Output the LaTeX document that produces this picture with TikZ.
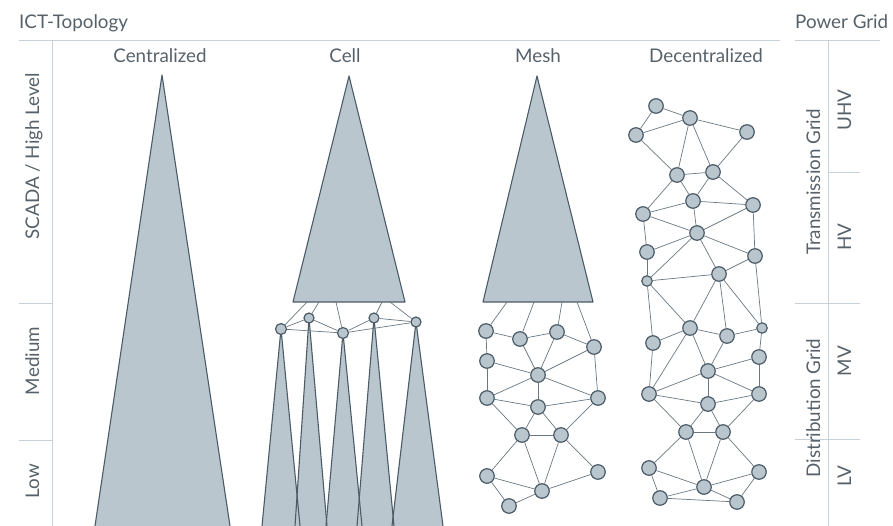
\documentclass[tikz,border=0pt]{standalone}
\usepackage{fontspec}
\setmainfont{Lato}
\usetikzlibrary{calc}
\definecolor{trifill}{HTML}{B9C6CE}
\definecolor{darkc}{HTML}{4B5B67}
\definecolor{edgec}{HTML}{6A7883}
\definecolor{axisc}{HTML}{C8D1D7}
\definecolor{txtc}{HTML}{56616A}
\pgfdeclarelayer{tris}
\pgfdeclarelayer{bg}
\pgfsetlayers{tris,bg,main}
\begin{document}
\begin{tikzpicture}[x=1pt,y=-1pt,
  trishape/.style={fill=trifill},
  trioutline/.style={draw=darkc,line width=1.1pt,line join=round},
  dot/.style={circle,fill=trifill,draw=darkc,line width=1.2pt,inner sep=0pt,minimum size=14.5pt},
  sdot/.style={dot,minimum size=10.5pt},
  edge/.style={draw=edgec,line width=0.7pt},
  axisline/.style={draw=axisc,line width=1pt},
  lbl/.style={text=txtc,font=\fontsize{18.8}{22}\selectfont,inner sep=0pt},
]
\useasboundingbox (0,0) rectangle (893,526);
\clip (0,0) rectangle (893,526);

% axes
\draw[axisline] (19,41) -- (780,41);
\draw[axisline] (795,41) -- (880,41);
\draw[axisline] (52,41) -- (52,530);
\draw[axisline] (19,303) -- (52,303);
\draw[axisline] (19,440) -- (52,440);
\draw[axisline] (828,41) -- (828,530);
\draw[axisline] (828,173) -- (860,173);
\draw[axisline] (795,303) -- (860,303);
\draw[axisline] (795,439) -- (860,439);

% labels
\node[lbl,anchor=base west] (ict) at (19,29) {ICT-Topology};
\node[lbl,anchor=base west] (pg) at (795,29) {Power Grid};
\node[lbl,anchor=base] (tc) at (160,62.5) {Centralized};
\node[lbl,anchor=base] (tcell) at (345,62.5) {Cell};
\node[lbl,anchor=base] (tm) at (538,62.5) {Mesh};
\node[lbl,anchor=base] (td) at (706,62.5) {Decentralized};
\node[lbl,rotate=90,anchor=base] (lscada) at (39,156) {SCADA / High Level};
\node[lbl,rotate=90,anchor=base] (lmed) at (39,361) {Medium};
\node[lbl,rotate=90,anchor=base] (llow) at (39,481) {Low};
\node[lbl,rotate=90,anchor=base] (ltr) at (820,182) {Transmission Grid};
\node[lbl,rotate=90,anchor=base] (ldi) at (820,408) {Distribution Grid};
\node[lbl,rotate=90,anchor=base] (luhv) at (851,110) {UHV};
\node[lbl,rotate=90,anchor=base] (lhv) at (851,237) {HV};
\node[lbl,rotate=90,anchor=base] (lmv) at (851,361) {MV};
\node[lbl,rotate=90,anchor=base] (llv) at (851,476) {LV};

% cell nodes
\node[dot,minimum size=11pt] (n1) at (281,329) {};
\node[dot,minimum size=10pt] (n2) at (309,318) {};
\node[dot,minimum size=11pt] (n3) at (343,333) {};
\node[dot,minimum size=10pt] (n4) at (374,318) {};
\node[dot,minimum size=10pt] (n5) at (416,322) {};

% mesh nodes
\foreach \n/\x/\y in {m1/486/331,m2/520/339,m3/557/332,m4/594/347,m5/487/361,
  m6/538/375,m7/487/398,m8/538/407,m9/598/398,m10/522/435,m11/561/435,
  m12/487/476,m13/598/472,m14/542/491,m15/509/506}
  \node[dot] (\n) at (\x,\y) {};

% decentralized nodes
\foreach \n/\x/\y in {d1/656/106,d2/690/118,d3/636/135,d4/747/132,d5/677/175,
  d6/713/172,d7/693/201,d8/643/214,d9/753/205,d10/697/233,d11/647/252,
  d12/755/256,d13/719/274,
  e1/690/328,e2/727/336,e4/653/343,e5/759/357,e6/708/371,e7/649/394,
  e8/708/404,e9/759/394,e10/686/432,e11/723/432,e12/649/468,e13/759/472,
  e14/704/487,e15/660/498,e16/737/502}
  \node[dot] (\n) at (\x,\y) {};
\node[sdot] (d14) at (647,281) {};
\node[sdot] (e3) at (762,328) {};

% triangles
\coordinate (ca) at (162,75);
\coordinate (cl) at ($(ca)!1.04!(95,526)$);
\coordinate (cr) at ($(ca)!1.04!(230,526)$);
\coordinate (la) at (349,76);
\coordinate (ll) at (293,302);
\coordinate (lr) at (405,302);
\coordinate (ma) at (537,76);
\coordinate (ml) at (483,302);
\coordinate (mr) at (593,302);
\coordinate (t1l) at ($(n1.center)!1.04!(262,526)$);
\coordinate (t1r) at ($(n1.center)!1.04!(300,526)$);
\coordinate (t2l) at ($(n2.center)!1.04!(295,526)$);
\coordinate (t2r) at ($(n2.center)!1.04!(327,526)$);
\coordinate (t3l) at ($(n3.center)!1.04!(326,526)$);
\coordinate (t3r) at ($(n3.center)!1.04!(362,526)$);
\coordinate (t4l) at ($(n4.center)!1.04!(357,526)$);
\coordinate (t4r) at ($(n4.center)!1.04!(394,526)$);
\coordinate (t5l) at ($(n5.center)!1.04!(392,526)$);
\coordinate (t5r) at ($(n5.center)!1.04!(443,526)$);

\begin{pgfonlayer}{tris}
  \path[trishape] (ca) -- (cl) -- (cr) -- cycle;
  \path[trishape] (la) -- (ll) -- (lr) -- cycle;
  \path[trishape] (ma) -- (ml) -- (mr) -- cycle;
  \foreach \i in {1,...,5}
    \path[trishape] (n\i.center) -- (t\i l) -- (t\i r) -- cycle;
  \draw[trioutline] (ca) -- (cl) -- (cr) -- cycle;
  \draw[trioutline] (la) -- (ll) -- (lr) -- cycle;
  \draw[trioutline] (ma) -- (ml) -- (mr) -- cycle;
  \foreach \i in {1,...,5}
    \draw[trioutline] (n\i.center) -- (t\i l) -- (t\i r) -- cycle;
\end{pgfonlayer}

% connector free ends on triangle bases
\coordinate (cb1) at (307,302);
\coordinate (cb2) at (319,302);
\coordinate (cb3) at (336,302);
\coordinate (cb4) at (382,302);
\coordinate (cb5) at (390,302);
\coordinate (mb1) at (507,302);
\coordinate (mb2) at (534,302);
\coordinate (mb3) at (562,302);
\coordinate (mb4) at (577,302);

\begin{pgfonlayer}{bg}
  \foreach \a/\b in {cb1/n1,cb2/n2,cb3/n3,cb4/n4,cb5/n5,
    n1/n2,n1/n3,n2/n3,n3/n4,n3/n5,n4/n5,
    mb1/m1,mb2/m2,mb3/m3,mb4/m4,
    m1/m2,m1/m5,m2/m3,m3/m4,m2/m6,m3/m6,m4/m6,m4/m9,m5/m6,m5/m7,m6/m7,m6/m8,
    m6/m9,m7/m8,m7/m10,m8/m9,m8/m10,m8/m11,m9/m11,m10/m11,m10/m12,m10/m14,
    m11/m14,m11/m13,m12/m14,m12/m15,m14/m15,m13/m14,
    d1/d2,d1/d3,d2/d3,d2/d4,d2/d5,d2/d6,d3/d5,d4/d6,d5/d6,d5/d7,d5/d8,d6/d7,
    d6/d9,d7/d8,d7/d9,d7/d10,d8/d10,d8/d11,d9/d10,d9/d12,d10/d11,d10/d12,
    d10/d13,d10/d14,d11/d14,d12/d13,d13/d14,
    d14/e4,d14/e1,d13/e1,d13/e2,d13/e3,d12/e3,
    e1/e2,e1/e4,e1/e6,e1/e7,e2/e3,e2/e6,e3/e5,e5/e6,e5/e9,e6/e7,e6/e8,e6/e9,
    e4/e7,e7/e8,e7/e10,e8/e9,e8/e10,e8/e11,e9/e11,e10/e11,e10/e12,e10/e14,
    e11/e14,e11/e13,e12/e14,e12/e15,e14/e15,e13/e14,e15/e16,e14/e16,e13/e16}
    \draw[edge] (\a) -- (\b);
\end{pgfonlayer}
\end{tikzpicture}
\end{document}
